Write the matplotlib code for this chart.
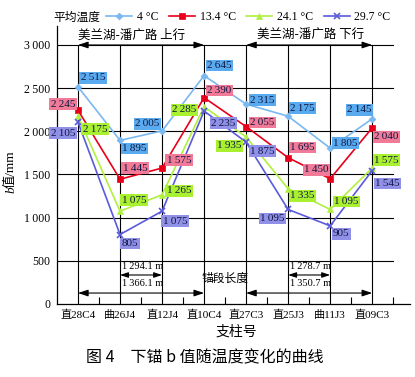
import matplotlib
matplotlib.use("Agg")
import matplotlib.pyplot as plt

plt.rcParams['font.family'] = ['Liberation Serif', 'Noto Sans CJK SC', 'DejaVu Sans']

categories = ['直28C4', '曲26J4', '直12J4', '直10C4', '直27C3', '直25J3', '曲11J3', '直09C3']
series_names = ['4 °C', '13.4 °C', '24.1 °C', '29.7 °C']
v_4 = [2515, 1895, 2005, 2645, 2315, 2175, 1805, 2145]
v_13 = [2245, 1445, 1575, 2390, 2055, 1695, 1450, 2040]
v_24 = [2175, 1075, 1265, 2285, 1935, 1335, 1095, 1575]
v_29 = [2105, 805, 1075, 2235, 1875, 1095, 905, 1545]
yticks = [0, 500, 1000, 1500, 2000, 2500, 3000]

line_colors = ['#7ab8f0', '#e8001a', '#b0f040', '#5a5adc']
box_colors = ['#5aaaf0', '#f07a98', '#a8f030', '#9090e8']
markers = ['D', 's', '^', 'x']
msizes = [3.5, 4, 4, 5]

# label offsets in pixels (dx, dy) relative to data point
offsets = [
    [(15, 9), (14, -8), (-15, 7), (15, 10), (16, 4), (14, 8), (15, 5), (-13, 9)],
    [(-15, 6), (15, 11), (17, 8), (15, 7), (16, 4), (14, 10), (-14, 9), (14, -9)],
    [(17, -13), (14, 11), (17, 4), (-20, -3), (-17, -9), (14, -7), (16, 8), (14, 8)],
    [(-15, -11), (10, -9), (13, -10), (19, -12), (16, -9), (-16, -9), (11, -8), (15, -13)],
]

W, H = 415, 377
fig = plt.figure(figsize=(W / 100, H / 100), dpi=100)
ax = fig.add_axes([57 / W, 1 - 304 / H, (410 - 57) / W, (304 - 26) / H])
ax.set_xlim(-0.5, 7.9)
ax.set_ylim(0, 3220)

x = list(range(len(categories)))

# grid
for yv in yticks[1:]:
    ax.plot([-0.5, 7.5], [yv, yv], color='black', lw=0.8, zorder=1)
for xv in x:
    ax.plot([xv, xv], [0, 3000], color='black', lw=0.8, zorder=1)

def fmt(v):
    return f"{v:,}".replace(",", "\u2009")

all_vals = [v_4, v_13, v_24, v_29]
for i, vals in enumerate(all_vals):
    ax.plot(x, vals, color=line_colors[i], lw=1.2, marker=markers[i], ms=msizes[i],
            mew=1.2 if markers[i] == 'x' else 0.5, mec=line_colors[i], mfc=line_colors[i],
            label=series_names[i], zorder=3)
for i, vals in enumerate(all_vals):
    for j, v in enumerate(vals):
        dx, dy = offsets[i][j]
        ax.annotate(fmt(v), (x[j], v), xytext=(dx, dy), textcoords='offset pixels',
                    ha='center', va='center', fontsize=8, color='#101840',
                    bbox=dict(boxstyle='square,pad=0.12', fc=box_colors[i], ec='none'),
                    zorder=5)

# ticks
ax.set_yticks(yticks)
ax.set_yticklabels([fmt(v) for v in yticks], fontsize=8.5)
ax.tick_params(axis='y', length=0, pad=5)
ax.set_xticks(x)
ax.set_xticklabels(categories, fontsize=8)
ax.set_xticks([k + 0.5 for k in x], minor=True)
ax.tick_params(axis='x', which='major', length=0, pad=4)
ax.tick_params(axis='x', which='minor', direction='in', length=5, width=0.8)
for s in ['top', 'right']:
    ax.spines[s].set_visible(False)
for s in ['left', 'bottom']:
    ax.spines[s].set_linewidth(0.9)

# arrows
def darrow(x0, x1, y, ms=8):
    ax.annotate('', xy=(x1, y), xytext=(x0, y),
                arrowprops=dict(arrowstyle='<|-|>,head_length=0.6,head_width=0.2', color='black', lw=0.8,
                                shrinkA=0, shrinkB=0, mutation_scale=ms), zorder=4)

darrow(0, 3, 3000, 10)
darrow(4, 7, 3000, 10)
darrow(0, 3, 127, 10)
darrow(4, 7, 127, 10)
darrow(1, 2, 336, ms=8)
darrow(5, 6, 336, ms=8)

cjk = ['Noto Sans CJK SC', 'DejaVu Sans']
ax.text(0, 3115, '美兰湖-潘广路 上行', fontsize=9, ha='left', va='center', family=cjk)
ax.text(4.25, 3115, '美兰湖-潘广路 下行', fontsize=9, ha='left', va='center', family=cjk)
ax.text(1.04, 430, '1\u2009294.1 m', fontsize=7.5, ha='left', va='center')
ax.text(1.04, 243, '1\u2009366.1 m', fontsize=7.5, ha='left', va='center')
ax.text(5.04, 430, '1\u2009278.7 m', fontsize=7.5, ha='left', va='center')
ax.text(5.04, 243, '1\u2009350.7 m', fontsize=7.5, ha='left', va='center')
ax.text(3.5, 295, '锚段长度', fontsize=8.5, ha='center', va='center', family=cjk)

# axis labels
fig.text(236 / W, 1 - 332 / H, '支柱号', fontsize=10, ha='center', va='center', family=cjk)
fig.text(11 / W, 1 - 190 / H, 'b', fontsize=9.5, style='italic', rotation=90, ha='center', va='center')
fig.text(11 / W, 1 - 169 / H, '值/mm', fontsize=9.5, rotation=90, ha='center', va='center')

# caption
fig.text(205 / W, 1 - 358 / H, '图 4\u3000下锚 b 值随温度变化的曲线', fontsize=11.5, ha='center', va='center', family=cjk)

# legend
fig.text(53 / W, 1 - 17 / H, '平均温度', fontsize=8.5, ha='left', va='center', family=cjk)
handles, labels = ax.get_legend_handles_labels()
fig.legend(handles, labels, loc='center left', bbox_to_anchor=(106 / W, 1 - 17 / H), ncol=4,
           frameon=False, fontsize=8.5, handlelength=2.2, handletextpad=0.4,
           columnspacing=0.9, borderpad=0, borderaxespad=0)

fig.savefig('out.png', dpi=100)
